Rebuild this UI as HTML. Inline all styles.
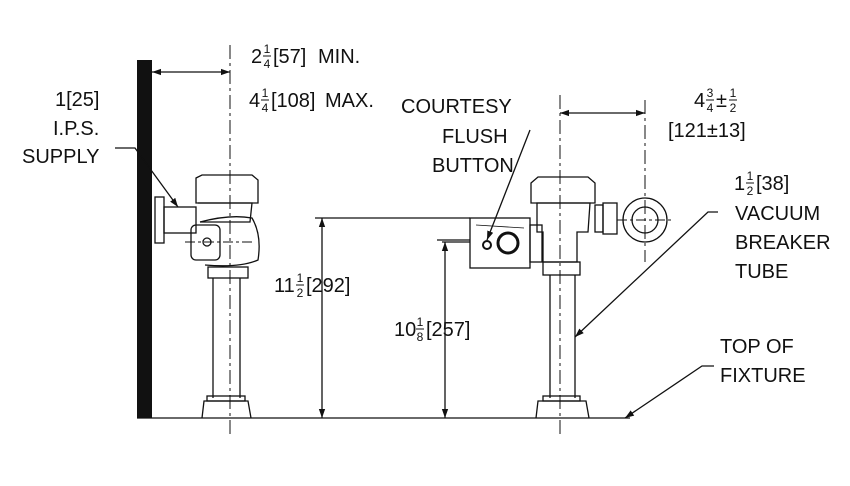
<!DOCTYPE html>
<html><head><meta charset="utf-8"><style>
html,body{margin:0;padding:0;background:#fff;}
svg{display:block;}
text{font-family:"Liberation Sans",sans-serif;font-size:20px;fill:#111;}
.f{font-size:12px;text-anchor:middle;}
</style></head><body>
<svg width="850" height="486" viewBox="0 0 850 486" xmlns="http://www.w3.org/2000/svg">
<defs>
<marker id="a" viewBox="0 0 10 10" refX="10" refY="5" markerWidth="9" markerHeight="9" orient="auto-start-reverse" markerUnits="userSpaceOnUse"><path d="M0,1.5 L10,5 L0,8.5z" fill="#111"/></marker>
</defs>
<g stroke="#111" fill="none" stroke-width="1.3">
<!-- wall -->
<path d="M137,60 L152,60 L152,418 L137,418 Z" fill="#111" stroke="none"/>
<!-- floor -->
<line x1="137" y1="418" x2="630" y2="418"/>
<!-- centerlines -->
<line x1="230" y1="45" x2="230" y2="436" stroke-dasharray="14,4,3,4" stroke-width="1"/>
<line x1="560" y1="95" x2="560" y2="436" stroke-dasharray="14,4,3,4" stroke-width="1"/>
<line x1="645" y1="100" x2="645" y2="262" stroke-dasharray="14,4,3,4" stroke-width="1"/>
<!-- left valve -->
<rect x="155" y="197" width="9" height="46"/>
<rect x="164" y="207" width="32" height="26"/>
<path d="M196,178 L202,175 L252,175 L258,180 L258,203 L196,203 Z"/>
<path d="M198,203 L252,203 L250,222 L200,222"/>
<path d="M200,222 Q230,214 252,218 Q262,235 258,260 Q240,268 205,265"/>
<rect x="191" y="225" width="29" height="35" rx="5"/>
<circle cx="207" cy="242" r="4"/>
<line x1="185" y1="242" x2="255" y2="242" stroke-dasharray="10,3,3,3" stroke-width="1"/>
<rect x="208" y="267" width="40" height="11"/>
<line x1="213" y1="278" x2="213" y2="398"/>
<line x1="240" y1="278" x2="240" y2="398"/>
<rect x="207" y="396" width="38" height="5"/>
<path d="M202,418 L204,401 L248,401 L251,418"/>
<!-- right valve -->
<path d="M531,183 L538,177 L588,177 L595,183 L595,203 L531,203 Z"/>
<path d="M537,203 L590,203 L588,232 L577,232 L577,262 L543,262 L543,232 L537,232 Z"/>
<rect x="470" y="218" width="60" height="50"/>
<line x1="476" y1="225" x2="524" y2="228" stroke-width="0.8"/>
<rect x="530" y="225" width="12" height="37"/>
<circle cx="508" cy="243" r="10" stroke-width="3"/>
<circle cx="487" cy="245" r="4" stroke-width="2"/>
<line x1="442" y1="242" x2="470" y2="242"/>
<rect x="595" y="205" width="8" height="27"/>
<rect x="603" y="203" width="14" height="31"/>
<circle cx="645" cy="220" r="22"/>
<circle cx="645" cy="220" r="13"/>
<line x1="617" y1="220" x2="672" y2="220" stroke-dasharray="10,3,3,3" stroke-width="1"/>
<rect x="543" y="262" width="37" height="13"/>
<line x1="550" y1="275" x2="550" y2="398"/>
<line x1="575" y1="275" x2="575" y2="398"/>
<rect x="543" y="396" width="37" height="5"/>
<path d="M536,418 L538,401 L586,401 L589,418"/>
<!-- dims -->
<line x1="152" y1="72" x2="230" y2="72" marker-start="url(#a)" marker-end="url(#a)"/>
<line x1="560" y1="113" x2="645" y2="113" marker-start="url(#a)" marker-end="url(#a)"/>
<line x1="315" y1="218" x2="470" y2="218"/>
<line x1="322" y1="218" x2="322" y2="418" marker-start="url(#a)" marker-end="url(#a)"/>
<line x1="437" y1="240" x2="470" y2="240"/>
<line x1="445" y1="242" x2="445" y2="418" marker-start="url(#a)" marker-end="url(#a)"/>
<!-- leaders -->
<polyline points="115,148 135,148 178,207" marker-end="url(#a)"/>
<polyline points="530,130 487,240" marker-end="url(#a)"/>
<polyline points="718,212 708,212 575,337" marker-end="url(#a)"/>
<polyline points="714,366 702,366 625,418" marker-end="url(#a)"/>
<!-- fraction bars -->
<g stroke-width="1">
<line x1="263" y1="56" x2="271" y2="56"/>
<line x1="261" y1="100" x2="269" y2="100"/>
<line x1="706" y1="100" x2="714" y2="100"/>
<line x1="729" y1="100" x2="737" y2="100"/>
<line x1="296" y1="285" x2="304" y2="285"/>
<line x1="416" y1="329" x2="424" y2="329"/>
<line x1="746" y1="183" x2="754" y2="183"/>
</g>
</g>
<!-- dim text -->
<text x="251" y="63">2</text><text class="f" x="267" y="53">1</text><text class="f" x="267" y="68">4</text>
<text x="273" y="63">[57]</text><text x="318" y="63">MIN.</text>
<text x="249" y="107">4</text><text class="f" x="265" y="97">1</text><text class="f" x="265" y="112">4</text>
<text x="271" y="107">[108]</text><text x="325" y="107">MAX.</text>
<text x="401" y="113">COURTESY</text>
<text x="442" y="143">FLUSH</text>
<text x="432" y="172">BUTTON</text>
<text x="694" y="107">4</text><text class="f" x="710" y="97">3</text><text class="f" x="710" y="112">4</text>
<text x="716" y="107">±</text><text class="f" x="733" y="97">1</text><text class="f" x="733" y="112">2</text>
<text x="668" y="137">[121±13]</text>
<text x="55" y="106">1[25]</text>
<text x="53" y="135">I.P.S.</text>
<text x="22" y="163">SUPPLY</text>
<text x="274" y="292">11</text><text class="f" x="300" y="282">1</text><text class="f" x="300" y="297">2</text>
<text x="306" y="292">[292]</text>
<text x="394" y="336">10</text><text class="f" x="420" y="326">1</text><text class="f" x="420" y="341">8</text>
<text x="426" y="336">[257]</text>
<text x="734" y="190">1</text><text class="f" x="750" y="180">1</text><text class="f" x="750" y="195">2</text>
<text x="756" y="190">[38]</text>
<text x="735" y="220">VACUUM</text>
<text x="735" y="249">BREAKER</text>
<text x="735" y="278">TUBE</text>
<text x="720" y="353">TOP OF</text>
<text x="720" y="382">FIXTURE</text>
</svg>
</body></html>
